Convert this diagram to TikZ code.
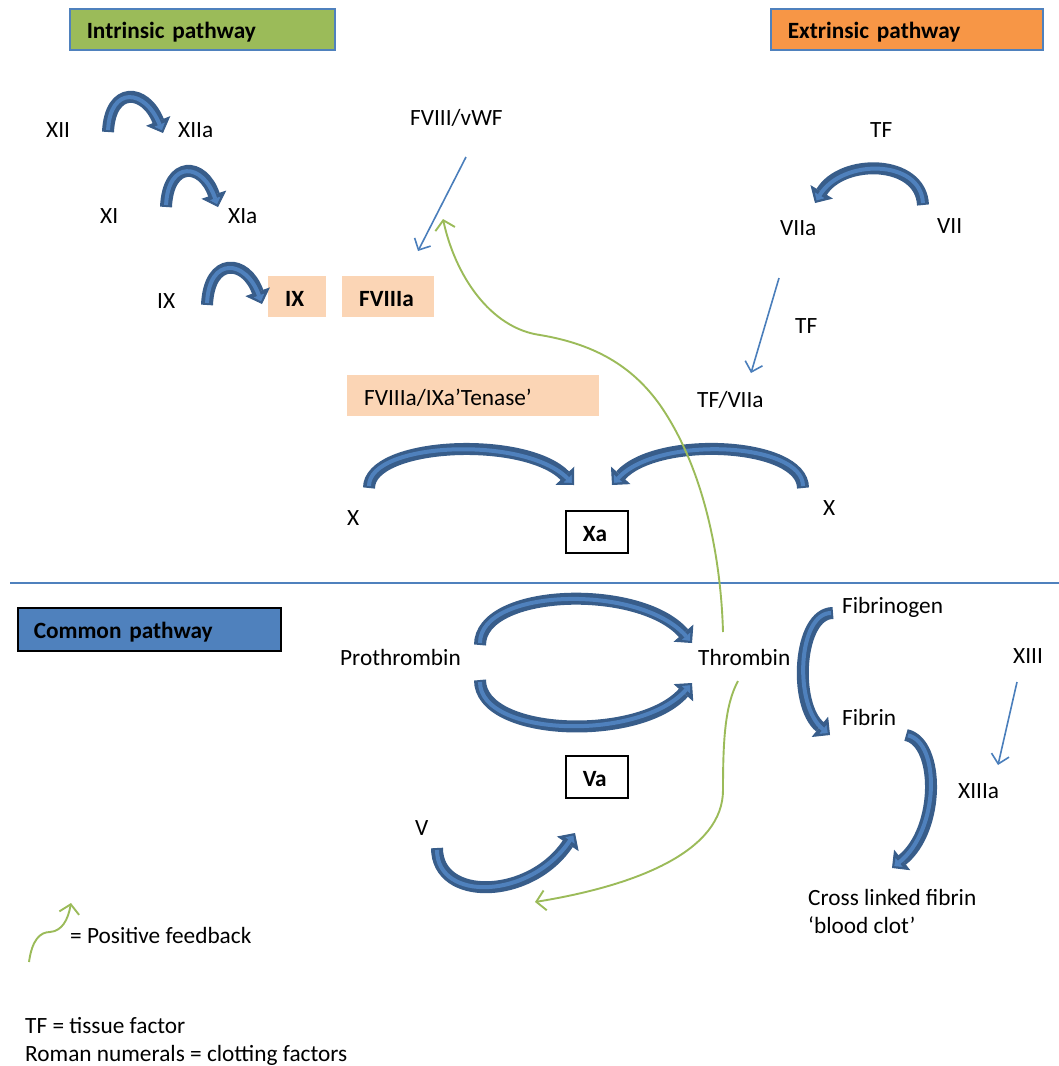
\documentclass[tikz,border=0pt]{standalone}
\usepackage{fontspec}
\setmainfont{Carlito}
\usetikzlibrary{arrows.meta}
\definecolor{intrinsic}{RGB}{155,187,89}
\definecolor{extrinsic}{RGB}{247,150,70}
\definecolor{common}{RGB}{79,129,189}
\definecolor{edgeblue}{RGB}{79,129,189}
\definecolor{thinblue}{RGB}{74,126,187}
\definecolor{peach}{RGB}{251,213,181}
\definecolor{arrowdark}{RGB}{56,93,138}
\definecolor{arrowlight}{RGB}{79,129,189}
\definecolor{feedback}{RGB}{155,187,89}
\tikzstyle{lbl}=[anchor=base west, inner sep=0pt]
\tikzstyle{tag}=[anchor=north west, inner xsep=17pt, inner ysep=0pt, minimum height=41pt, text height=19pt, text depth=0pt, align=left]
\tikzset{bigarrow/.style={draw=arrowdark, line width=12pt, -{Triangle[width=26pt,length=13pt,line width=1pt]},
    postaction={draw=arrowlight, line width=4pt, -{Triangle[width=11pt,length=6pt,line width=0.5pt]}, shorten <=2pt, shorten >=3pt}}}
\tikzset{thinarrow/.style={draw=thinblue, line width=1.6pt, -{Straight Barb[length=9pt,width=18pt]}}}
\tikzset{positive/.style={draw=feedback, line width=1.9pt, -{Straight Barb[length=9pt,width=20pt]}}}
\begin{document}
\fontsize{23.3}{28}\selectfont
\begin{tikzpicture}[x=1pt,y=-1pt]
  \useasboundingbox (0,0) rectangle (1059,1066);
  %% Pathway headings
  \draw (69,8) node[tag, fill=intrinsic, draw=edgeblue, line width=1.5pt, text width=231pt] (Intr) {\textbf{Intrinsic pathway}};
  \draw (770,8) node[tag, fill=extrinsic, draw=edgeblue, line width=1.5pt, text width=238pt] (Extr) {\textbf{Extrinsic pathway}};
  \draw (17,607) node[tag, fill=common, draw=black, line width=1.5pt, minimum height=43pt, inner xsep=16pt, text width=231pt] (Comm) {\textbf{Common pathway}};
  \draw[edgeblue, line width=1.4pt] (10,583) -- (1059,583);

  %% Intrinsic side
  \draw (46,137) node[lbl] (XII) {XII};
  \draw (178,137) node[lbl] (XIIa) {XIIa};
  \draw (100,223) node[lbl] (XI) {XI};
  \draw (228,223) node[lbl] (XIa) {XIa};
  \draw (157,308) node[lbl] (IX) {IX};
  \draw (268,276) node[tag, fill=peach, text width=24pt] (IXa) {\textbf{IX}};
  \draw (342,276) node[tag, fill=peach, text width=58pt] (F8a) {\textbf{FVIIIa}};
  \draw (410,125) node[lbl] (F8) {FVIII/vWF};
  \draw (347,375) node[tag, fill=peach, text width=218pt] (Ten) {FVIIIa/IXa’Tenase’};

  %% Extrinsic side
  \draw (870,137) node[lbl] (TF1) {TF};
  \draw (780,235) node[lbl] (VIIa) {VIIa};
  \draw (937,233) node[lbl] (VII) {VII};
  \draw (795,333) node[lbl] (TF2) {TF};
  \draw (697,407) node[lbl] (TFVIIa) {TF/VIIa};

  %% Factor X
  \draw (347,525) node[lbl] (Xl) {X};
  \draw (823,515) node[lbl] (Xr) {X};
  \draw (565,510) node[tag, draw=black, line width=1.5pt, minimum height=42pt, text width=28pt] (Xa) {\textbf{Xa}};

  %% Common side
  \draw (340,665) node[lbl] (Pro) {Prothrombin};
  \draw (698,665) node[lbl] (Thr) {Thrombin};
  \draw (565,755) node[tag, draw=black, line width=1.5pt, minimum height=42pt, text width=28pt] (Va) {\textbf{Va}};
  \draw (415,835) node[lbl] (V) {V};
  \draw (842,613) node[lbl] (Fbg) {Fibrinogen};
  \draw (842,725) node[lbl] (Fbn) {Fibrin};
  \draw (1013,663) node[lbl] (XIII) {XIII};
  \draw (958,798) node[lbl] (XIIIa) {XIIIa};
  \draw (808,889) node[anchor=north west, inner sep=0pt, align=left] (Clot) {Cross linked fibrin\\‘blood clot’};

  %% Activation arrows
  \draw[bigarrow] ([shift={(62,-5)}]XII.base west) .. controls (110,86) and (145,88) .. ([shift={(-15,-4)}]XIIa.base west);
  \draw[bigarrow] ([shift={(66,-16)}]XI.base west) .. controls (168,160) and (203,162) .. ([shift={(-10,-16)}]XIa.base west);
  \draw[bigarrow] ([shift={(50,-3)}]IX.base west) .. controls (209,256) and (246,259) .. ([shift={(-6,28)}]IXa.north west);
  \draw[bigarrow] ([shift={(-14,-28)}]VII.base west) .. controls (921,159) and (842,158) .. ([shift={(35,-32)}]VIIa.base west);
  \draw[bigarrow] ([shift={(22,-37)}]Xl.base west) .. controls (369,442) and (525,435) .. ([shift={(9,-25)}]Xa.north west);
  \draw[bigarrow] ([shift={(-20,-27)}]Xr.base west) .. controls (803,442) and (657,435) .. ([shift={(47,-25)}]Xa.north west);
  \draw[bigarrow] ([shift={(140,-20)}]Pro.base west) .. controls (480,588) and (640,583) .. ([shift={(-6,-22)}]Thr.base west);
  \draw[bigarrow] ([shift={(140,15)}]Pro.base west) .. controls (480,737) and (640,742) .. ([shift={(-6,18)}]Thr.base west);
  \draw[bigarrow] ([shift={(22,13)}]V.base west) .. controls (437,902) and (530,900) .. ([shift={(10,78)}]Va.north west);
  \draw[bigarrow] ([shift={(-9,0)}]Fbg.base west) .. controls (798,613) and (793,705) .. ([shift={(-12,10)}]Fbn.base west);
  \draw[bigarrow] ([shift={(64,10)}]Fbn.base west) .. controls (940,742) and (940,830) .. ([shift={(84,-21)}]Clot.north west);

  %% Cofactor arrows
  \draw[thinarrow] ([shift={(56,32)}]F8.base west) -- ([shift={(76,-25)}]F8a.north west);
  \draw[thinarrow] ([shift={(-1,43)}]VIIa.base west) -- ([shift={(54,-34)}]TFVIIa.base west);
  \draw[thinarrow] ([shift={(4,19)}]XIII.base west) -- ([shift={(40,-33)}]XIIIa.base west);

  %% Thrombin feedback
  \draw[positive] ([shift={(25,-33)}]Thr.base west) .. controls (721,560) and (705,470) .. (660,405)
    .. controls (635,370) and (600,345) .. (540,335) .. controls (490,328) and (455,275) .. ([shift={(33,94)}]F8.base west);
  \draw[positive] ([shift={(40,16)}]Thr.base west) .. controls (725,705) and (723,740) .. (723,790)
    .. controls (723,850) and (640,885) .. ([shift={(-30,147)}]Va.north west);

  %% Key
  \draw (70,943) node[lbl] (PosFb) {= Positive feedback};
  \draw[positive] ([shift={(-41,19)}]PosFb.base west) .. controls (32,940) and (40,932) .. (50,932)
    .. controls (62,931) and (68,920) .. ([shift={(1,-40)}]PosFb.base west);
  \draw (25,1017) node[anchor=north west, inner sep=0pt, align=left] (Key) {TF = tissue factor\\Roman numerals = clotting factors};
\end{tikzpicture}
\end{document}
